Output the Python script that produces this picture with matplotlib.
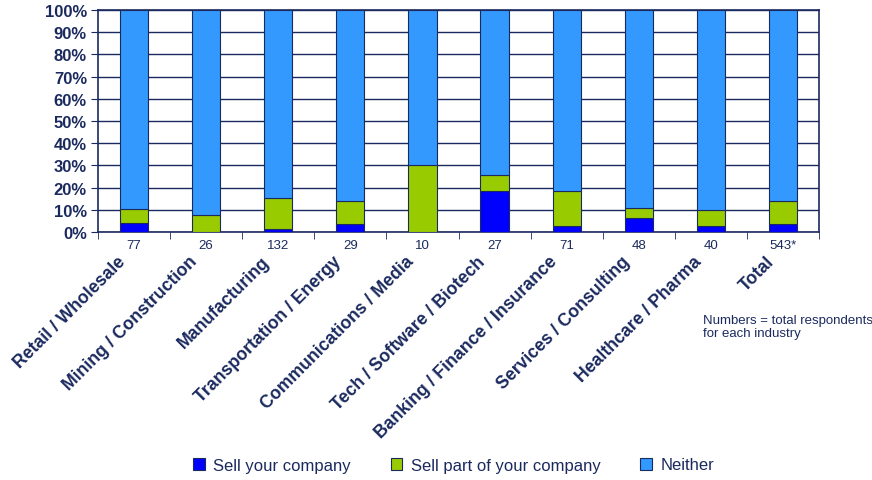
import matplotlib
matplotlib.use("Agg")
import matplotlib.pyplot as plt
from matplotlib.patches import Patch
import numpy as np

plt.rcParams['font.family'] = ['Liberation Sans', 'DejaVu Sans']

industries = ["Retail / Wholesale", "Mining / Construction", "Manufacturing",
              "Transportation / Energy", "Communications / Media",
              "Tech / Software / Biotech", "Banking / Finance / Insurance",
              "Services / Consulting", "Healthcare / Pharma", "Total"]
respondents = ["77", "26", "132", "29", "10", "27", "71", "48", "40", "543*"]
sell_company = [3.9, 0.0, 1.5, 3.4, 0.0, 18.5, 2.8, 6.3, 2.5, 3.6]
sell_part = [6.6, 7.7, 13.6, 10.4, 30.0, 7.4, 15.5, 4.3, 7.5, 10.4]
neither = [100 - a - b for a, b in zip(sell_company, sell_part)]

series_names = ["Sell your company", "Sell part of your company", "Neither"]
colors = ["#0000FF", "#99CC00", "#3399FF"]
navy = "#1B2A5E"

fig = plt.figure(figsize=(8.72, 4.81), dpi=100)
ax = fig.add_axes([98 / 872, 1 - 233 / 481, (819 - 98) / 872, (233 - 11) / 481])

x = np.arange(len(industries))
width = 0.39
bottom = np.zeros(len(x))
for vals, col in zip([sell_company, sell_part, neither], colors):
    ax.bar(x, vals, width, bottom=bottom, color=col, edgecolor=navy,
           linewidth=0.8, zorder=3)
    bottom += np.array(vals)

ax.set_xlim(-0.5, len(x) - 0.5)
ax.set_ylim(0, 100)
ax.set_yticks(np.arange(0, 101, 10))
ax.set_yticklabels([f"{v}%" for v in range(0, 101, 10)])
ax.yaxis.grid(True, color=navy, linewidth=1.0, zorder=0)
ax.tick_params(axis='y', length=5, color=navy, labelsize=12, labelcolor=navy, pad=3)
for lbl in ax.get_yticklabels():
    lbl.set_fontweight('bold')

ax.set_xticks(x)
ax.set_xticklabels(respondents)
ax.set_xticks(np.arange(-0.5, len(x), 1), minor=True)
ax.tick_params(axis='x', which='major', length=0, labelsize=9.5, labelcolor=navy, pad=5)
ax.tick_params(axis='x', which='minor', length=5, color=navy)

for s in ax.spines.values():
    s.set_color(navy)
    s.set_linewidth(1.2)

for i, name in enumerate(industries):
    ax.annotate(name, xy=(i, 0), xycoords='data', xytext=(-4, -15),
                textcoords='offset points', ha='right', va='top', rotation=45,
                fontsize=12.7, fontweight='bold', color=navy)

fig.text(703 / 872, 1 - 315 / 481, "Numbers = total respondents\nfor each industry",
         fontsize=9.5, color=navy, ha='left', va='top', linespacing=1.15)

handles = [Patch(facecolor=c, edgecolor=navy, linewidth=0.8) for c in colors]
fig.legend(handles, series_names, loc='center', bbox_to_anchor=(0.52, 1 - 466 / 481),
           ncol=3, frameon=False, fontsize=12, labelcolor=navy,
           handlelength=0.7, handleheight=0.7, handletextpad=0.5, columnspacing=2.4)

fig.savefig("out.png", dpi=100)
